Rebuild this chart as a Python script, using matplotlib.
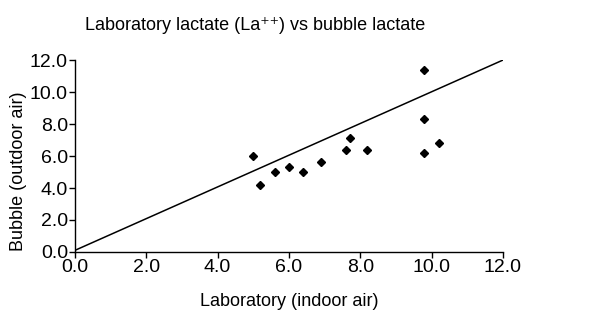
import matplotlib
matplotlib.use("Agg")
import matplotlib.pyplot as plt
import numpy as np

plt.rcParams['font.family'] = ['Liberation Sans', 'DejaVu Sans']

# laboratory (indoor air) vs bubble (outdoor air) lactate
lab = [5.0, 5.2, 5.6, 6.0, 6.4, 6.9, 7.6, 7.7, 8.2, 9.8, 9.8, 9.8, 10.2]
bubble = [6.0, 4.2, 5.0, 5.3, 5.0, 5.6, 6.4, 7.1, 6.4, 11.4, 8.3, 6.2, 6.8]

# line of identity
line_x = [0.0, 12.0]
line_y = [0.1, 12.0]

ticks = [0, 2, 4, 6, 8, 10, 12]
tick_labels = ["0.0", "2.0", "4.0", "6.0", "8.0", "10.0", "12.0"]

fig = plt.figure(figsize=(6.14, 3.13), dpi=100)
ax = fig.add_axes([0.122, 0.195, 0.697, 0.613])

ax.plot(line_x, line_y, color='black', lw=1.1)
ax.plot(lab, bubble, 'D', color='black', ms=4.5, ls='none')

ax.set_xlim(0, 12)
ax.set_ylim(0, 12)
ax.set_xticks(ticks)
ax.set_xticklabels(tick_labels)
ax.set_yticks(ticks)
ax.set_yticklabels(tick_labels)
ax.tick_params(direction='out', length=4, width=1, labelsize=14, pad=1)

for s in ['top', 'right']:
    ax.spines[s].set_visible(False)
for s in ['left', 'bottom']:
    ax.spines[s].set_linewidth(1)
ax.spines['left'].set_bounds(0, 12)
ax.spines['bottom'].set_bounds(0, 12)

ax.set_xlabel("Laboratory (indoor air)", fontsize=13, labelpad=12)
ax.set_ylabel("Bubble (outdoor air)", fontsize=13)
ax.yaxis.set_label_coords(-0.131, 0.42)
ax.yaxis.label.set_va('center')

title = fig.text(0.415, 0.92, "Laboratory lactate (La\u207a\u207a) vs bubble lactate",
                 ha='center', va='center', fontsize=13)

fig.savefig("out.png", dpi=100)
